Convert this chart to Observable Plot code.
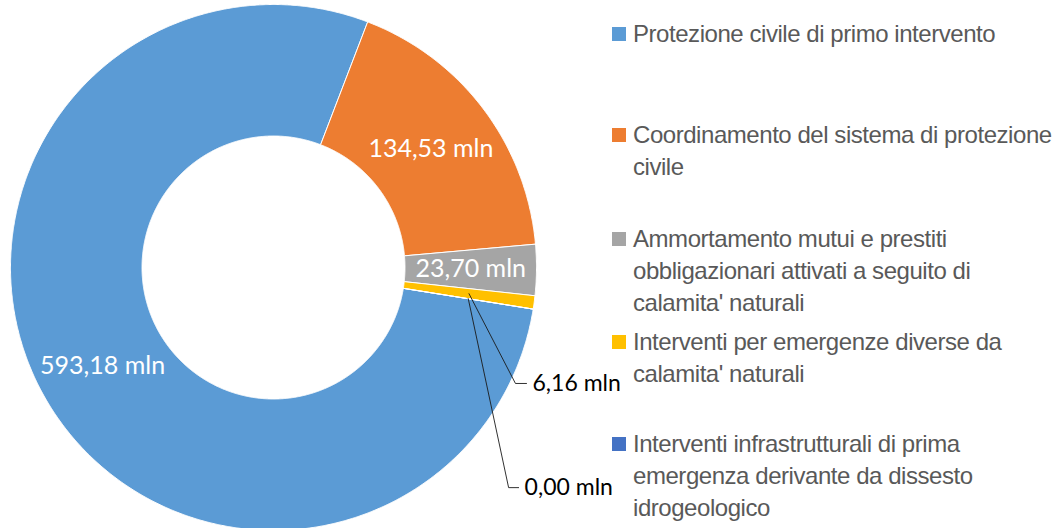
<!DOCTYPE html>
<html>
<head>
<meta charset="utf-8">
<script src="https://cdn.jsdelivr.net/npm/d3@7"></script>
<script src="https://cdn.jsdelivr.net/npm/@observablehq/plot@0.6"></script>
<style>
  html, body { margin: 0; padding: 0; background: #fff; }
  #wrap { position: relative; width: 1053px; height: 528px; overflow: hidden; }
  #legend { position: absolute; left: 612px; top: 0; width: 441px; height: 528px;
    font-family: "Liberation Sans", Arial, sans-serif; font-size: 24px; letter-spacing: -0.45px;
    color: #595959; line-height: 32px; }
  .item { position: absolute; left: 0; }
  .sw { position: absolute; left: 0; top: 9px; width: 14px; height: 14px; }
  .txt { position: absolute; left: 21px; top: 0; white-space: nowrap; }
</style>
</head>
<body>
<div id="wrap"><div id="chart"></div><div id="legend"></div></div>
<script>
// ---- data ----
const categories = [
  "Protezione civile di primo intervento",
  "Coordinamento del sistema di protezione civile",
  "Ammortamento mutui e prestiti obbligazionari attivati a seguito di calamita' naturali",
  "Interventi per emergenze diverse da calamita' naturali",
  "Interventi infrastrutturali di prima emergenza derivante da dissesto idrogeologico"
];
const values = [593.18, 134.53, 23.70, 6.16, 0.00];
const colors = ["#5B9BD5", "#ED7D31", "#A5A5A5", "#FFC000", "#4472C4"];
const legendLines = [
  ["Protezione civile di primo intervento"],
  ["Coordinamento del sistema di protezione", "civile"],
  ["Ammortamento mutui e prestiti", "obbligazionari attivati a seguito di", "calamita' naturali"],
  ["Interventi per emergenze diverse da", "calamita' naturali"],
  ["Interventi infrastrutturali di prima", "emergenza derivante da dissesto", "idrogeologico"]
];

// ---- layout / style ----
const startDeg = 99.1;
const hole = 0.5;
const labelR = 0.75;
// outside label placements (unit-circle coords) for small slices
const outside = {
  3: {elbow: [0.920, -0.441], end: [0.962, -0.441]},
  4: {elbow: [0.894, -0.837], end: [0.932, -0.837]}
};

const data = categories.map((c, i) => ({cat: c, value: values[i], i}));
const a0 = startDeg * Math.PI / 180;
const arcs = d3.pie().sort(null).value(d => d.value).startAngle(a0).endAngle(a0 + 2 * Math.PI)(data);

const polys = [];
arcs.forEach(a => {
  const span = a.endAngle - a.startAngle;
  const n = Math.max(2, Math.ceil(span / (0.25 * Math.PI / 180)));
  const pts = [];
  for (let k = 0; k <= n; k++) {
    const t = a.startAngle + span * k / n;
    pts.push({cat: a.data.cat, x: Math.sin(t), y: Math.cos(t)});
  }
  for (let k = n; k >= 0; k--) {
    const t = a.startAngle + span * k / n;
    pts.push({cat: a.data.cat, x: hole * Math.sin(t), y: hole * Math.cos(t)});
  }
  pts.push({...pts[0]});
  polys.push(...pts);
});

const fmt = v => v.toFixed(2).replace(".", ",") + " mln";
const inside = arcs.filter(a => !outside[a.data.i]).map(a => {
  const m = (a.startAngle + a.endAngle) / 2;
  return {x: labelR * Math.sin(m), y: labelR * Math.cos(m), text: fmt(a.data.value)};
});
const leaders = [];
const outLabels = [];
arcs.filter(a => outside[a.data.i]).forEach(a => {
  const m = (a.startAngle + a.endAngle) / 2;
  const o = outside[a.data.i];
  leaders.push({cat: a.data.cat, x: labelR * Math.sin(m), y: labelR * Math.cos(m)});
  leaders.push({cat: a.data.cat, x: o.elbow[0], y: o.elbow[1]});
  leaders.push({cat: a.data.cat, x: o.end[0], y: o.end[1]});
  outLabels.push({x: o.end[0], y: o.end[1], text: fmt(a.data.value)});
});

const chart = Plot.plot({
  width: 1053,
  height: 528,
  margin: 0,
  x: {domain: [-1, 1], range: [10, 536], axis: null},
  y: {domain: [-1, 1], range: [530, 4], axis: null},
  color: {domain: categories, range: colors},
  style: {background: "white"},
  marks: [
    Plot.line(polys, {x: "x", y: "y", z: "cat", fill: "cat", stroke: "white", strokeWidth: 1, curve: "linear"}),
    Plot.text(inside, {x: "x", y: "y", text: "text", fill: "white", fontSize: 25, fontFamily: "Lato, 'Open Sans', sans-serif"}),
    Plot.line(leaders, {x: "x", y: "y", z: "cat", stroke: "#1a1a1a", strokeWidth: 0.9}),
    Plot.text(outLabels, {x: "x", y: "y", text: "text", fill: "black", fontSize: 23, textAnchor: "start", dx: 6, fontFamily: "Lato, 'Open Sans', sans-serif"})
  ]
});
document.getElementById("chart").appendChild(chart);

// ---- legend ----
const tops = [18, 119, 223, 325.5, 428];
const legend = d3.select("#legend");
categories.forEach((c, i) => {
  const it = legend.append("div").attr("class", "item").style("top", tops[i] + "px");
  it.append("span").attr("class", "sw").style("background", colors[i]);
  it.append("div").attr("class", "txt").html(legendLines[i].join("<br>"));
});
</script>
</body>
</html>
